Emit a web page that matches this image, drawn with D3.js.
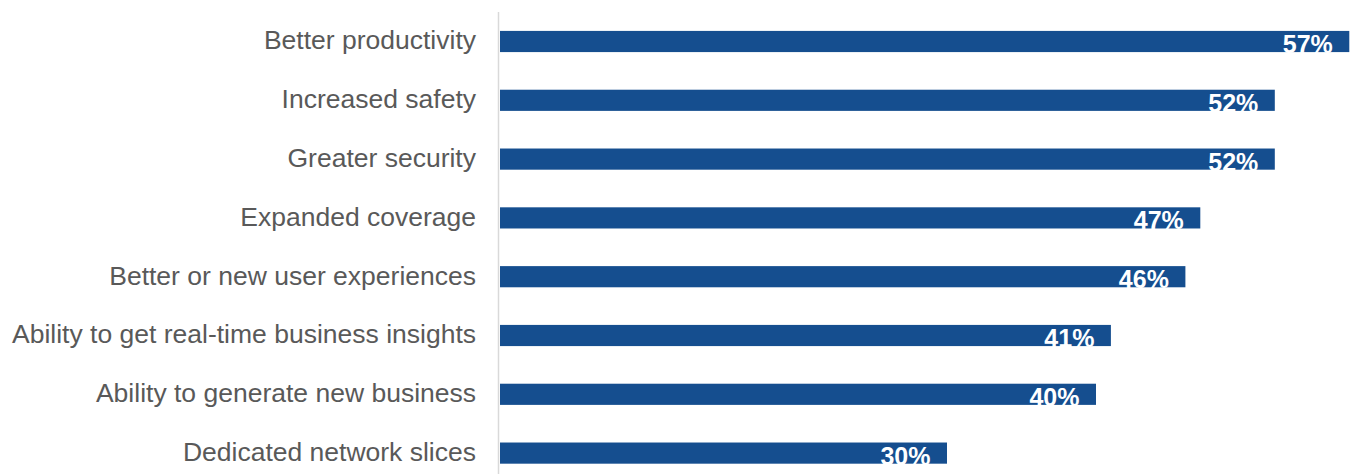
<!DOCTYPE html>
<html>
<head>
<meta charset="utf-8">
<script src="https://cdn.jsdelivr.net/npm/d3@7"></script>
<style>
    body { margin: 0; background: #fff; }
    svg { display: block; }
</style>
</head>
<body>
<div id="chart"></div>
<script>
const categories = [
    'Better productivity',
    'Increased safety',
    'Greater security',
    'Expanded coverage',
    'Better or new user experiences',
    'Ability to get real-time business insights',
    'Ability to generate new business',
    'Dedicated network slices'
];
const values = [57, 52, 52, 47, 46, 41, 40, 30];

const width = 1354;
const height = 474;
const x0 = 500;

const svg = d3.select('#chart').append('svg')
    .attr('width', width)
    .attr('height', height);

const xScale = d3.scaleLinear()
    .domain([0, 57])
    .range([x0, 1349.3]);

const yScale = d3.scaleBand()
    .domain(categories)
    .range([12.1, 482.5])
    .paddingInner(0.64)
    .paddingOuter(0.32);

// vertical axis line
svg.append('line')
    .attr('x1', x0 - 1.5).attr('x2', x0 - 1.5)
    .attr('y1', 12).attr('y2', height)
    .attr('stroke', '#d9d9d9')
    .attr('stroke-width', 1.5);

const rows = categories.map((c, i) => ({ name: c, val: values[i] }));

svg.selectAll('rect.bar')
    .data(rows)
    .enter()
    .append('rect')
    .attr('class', 'bar')
    .attr('x', xScale(0))
    .attr('y', d => yScale(d.name))
    .attr('width', d => xScale(d.val) - xScale(0))
    .attr('height', yScale.bandwidth())
    .attr('fill', '#154e8f');

svg.selectAll('text.cat')
    .data(rows)
    .enter()
    .append('text')
    .attr('class', 'cat')
    .attr('x', 476)
    .attr('y', d => yScale(d.name) + yScale.bandwidth() / 2)
    .attr('dy', '0.3em')
    .attr('text-anchor', 'end')
    .attr('font-family', 'Arial, "Liberation Sans", sans-serif')
    .attr('font-size', 26.5)
    .attr('fill', '#595959')
    .text(d => d.name);

svg.selectAll('text.val')
    .data(rows)
    .enter()
    .append('text')
    .attr('class', 'val')
    .attr('x', d => xScale(d.val) - 16.5)
    .attr('y', d => yScale(d.name) + yScale.bandwidth() / 2 + 11.5)
    .attr('text-anchor', 'end')
    .attr('font-family', 'Arial, "Liberation Sans", sans-serif')
    .attr('font-size', 25)
    .attr('font-weight', 'bold')
    .attr('fill', '#fff')
    .text(d => d.val + '%');
</script>
</body>
</html>
